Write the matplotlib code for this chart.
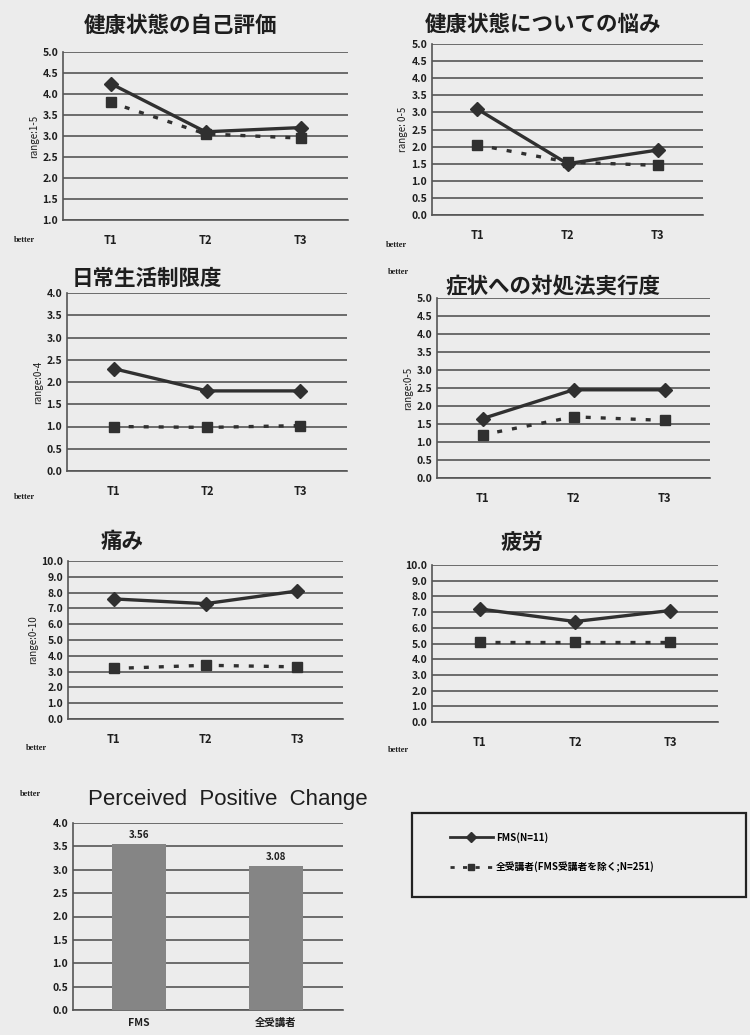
import matplotlib.pyplot as plt
import numpy as np
from matplotlib.lines import Line2D
from matplotlib.patches import Rectangle

plt.rcParams['font.family'] = ['Noto Sans CJK JP', 'DejaVu Sans']
plt.rcParams['font.weight'] = 'bold'

# Data
times = ['T1', 'T2', 'T3']
titles = ['健康状態の自己評価', '健康状態についての悩み', '日常生活制限度',
          '症状への対処法実行度', '痛み', '疲労']
ylabels = ['range:1-5', 'range: 0-5', 'range:0-4', 'range:0-5', 'range:0-10', '']
fms = [[4.25, 3.1, 3.2], [3.1, 1.5, 1.9], [2.3, 1.8, 1.8],
       [1.65, 2.45, 2.45], [7.6, 7.3, 8.1], [7.2, 6.4, 7.1]]
others = [[3.8, 3.05, 2.95], [2.05, 1.55, 1.45], [1.0, 0.98, 1.02],
          [1.2, 1.7, 1.6], [3.2, 3.4, 3.3], [5.1, 5.1, 5.1]]
ylims = [(1, 5), (0, 5), (0, 4), (0, 5), (0, 10), (0, 10)]
ysteps = [0.5, 0.5, 0.5, 0.5, 1.0, 1.0]

bar_names = ['FMS', '全受講者']
bar_values = [3.56, 3.08]

legend_labels = ['FMS(N=11)', '全受講者(FMS受講者を除く;N=251)']

W, H = 750, 1035
bg = '#ececec'
fig = plt.figure(figsize=(W / 100, H / 100), dpi=100, facecolor=bg)


def px_axes(left, top, right, bottom):
    return fig.add_axes([left / W, 1 - bottom / H, (right - left) / W, (bottom - top) / H])


# axes boxes in pixels: left, top, right, bottom
boxes = [(63, 52, 348, 220), (432, 44, 703, 215), (67, 293, 347, 471),
         (437, 298, 710, 478), (68, 561, 343, 719), (432, 565, 718, 722)]
# title positions (x center, y)
title_pos = [(181, 25), (543, 24), (147, 278), (553, 286), (122, 542), (522, 542)]
# "better" positions
better_pos = [(24, 240), (396, 245), (24, 497), (398, 272), (36, 748), (398, 750)]

line_color = '#303030'
grid_color = '#555555'
text_color = '#1e1e1e'

for i in range(6):
    ax = px_axes(*boxes[i])
    ax.set_facecolor('none')
    x = np.arange(len(times))
    ax.plot(x, fms[i], '-', color=line_color, linewidth=2.4, marker='D',
            markersize=7, zorder=3)
    ax.plot(x, others[i], color=line_color, linewidth=2.4, linestyle=(0, (1.5, 3)),
            marker='s', markersize=7, zorder=3)
    lo, hi = ylims[i]
    ticks = np.arange(lo, hi + 1e-9, ysteps[i])
    ax.set_yticks(ticks)
    ax.set_yticklabels(['%.1f' % t for t in ticks])
    ax.set_ylim(lo, hi)
    ax.set_xlim(-0.5, 2.5)
    ax.set_xticks(x)
    ax.set_xticklabels(times)
    ax.grid(axis='y', color=grid_color, linewidth=1.2)
    ax.set_axisbelow(True)
    for s in ['top', 'right']:
        ax.spines[s].set_visible(False)
    for s in ['left', 'bottom']:
        ax.spines[s].set_color(grid_color)
        ax.spines[s].set_linewidth(1.2)
    ax.tick_params(axis='both', length=0, labelsize=7.5, colors=text_color)
    ax.tick_params(axis='x', pad=10, labelsize=8)
    if ylabels[i]:
        ax.set_ylabel(ylabels[i], fontsize=7, labelpad=2, color=text_color)
    fig.text(title_pos[i][0] / W, 1 - title_pos[i][1] / H, titles[i],
             fontsize=15.5, fontweight='bold', ha='center', va='center', color=text_color)
    fig.text(better_pos[i][0] / W, 1 - better_pos[i][1] / H, 'better',
             fontsize=6, family='Liberation Serif', ha='center', va='center', color=text_color)

# Bar chart
axb = px_axes(73, 823, 343, 1010)
axb.set_facecolor('none')
axb.bar([0, 1], bar_values, width=0.39, color='#858585', zorder=3)
for xi, v in enumerate(bar_values):
    axb.text(xi, v + 0.08, '%.2f' % v, ha='center', va='bottom', fontsize=7, color=text_color)
axb.set_xlim(-0.48, 1.49)
axb.set_ylim(0, 4)
bticks = np.arange(0, 4.01, 0.5)
axb.set_yticks(bticks)
axb.set_yticklabels(['%.1f' % t for t in bticks])
axb.set_xticks([0, 1])
axb.set_xticklabels(bar_names)
axb.grid(axis='y', color=grid_color, linewidth=1.2)
axb.set_axisbelow(True)
for s in ['top', 'right']:
    axb.spines[s].set_visible(False)
for s in ['left', 'bottom']:
    axb.spines[s].set_color(grid_color)
    axb.spines[s].set_linewidth(1.2)
axb.tick_params(axis='both', length=0, labelsize=7.5, colors=text_color)
axb.tick_params(axis='x', pad=6)
fig.text(228 / W, 1 - 800 / H, 'Perceived  Positive  Change', fontsize=16,
         fontweight='normal', family='Liberation Sans', ha='center', va='center',
         color=text_color)
fig.text(30 / W, 1 - 794 / H, 'better', fontsize=6, family='Liberation Serif',
         ha='center', va='center', color=text_color)

# Legend: frame drawn separately, entries placed inside it
fig.patches.append(Rectangle((412 / W, 1 - 897 / H), (746 - 412) / W, 84 / H,
                             transform=fig.transFigure, facecolor='none',
                             edgecolor='#222222', linewidth=1.6))
handles = [Line2D([], [], color=line_color, linewidth=2, marker='D', markersize=5),
           Line2D([], [], color=line_color, linewidth=2, linestyle=(0, (1.5, 3)),
                  marker='s', markersize=5)]
fig.legend(handles, legend_labels, loc='upper left',
           bbox_to_anchor=(450 / W, 1 - 832 / H), borderaxespad=0, borderpad=0,
           fontsize=7, frameon=False, handlelength=4.4, handletextpad=0.3,
           labelspacing=1.9)

fig.savefig('out.png', dpi=100, facecolor=bg)
